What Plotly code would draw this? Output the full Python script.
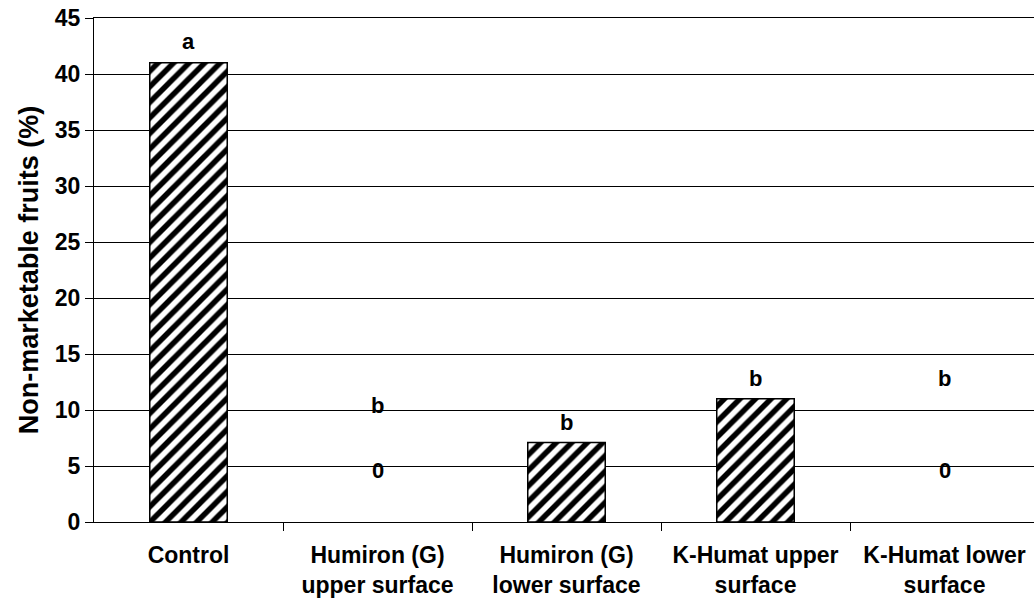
import plotly.graph_objects as go

categories = ["Control", "Humiron (G)<br>upper surface", "Humiron (G)<br>lower surface",
              "K-Humat upper<br>surface", "K-Humat lower<br>surface"]
values = [41, 0, 7.1, 11, 0]
letters = ["a", "b", "b", "b", "b"]
letter_y = [42.9, 10.4, 8.9, 12.8, 12.8]
zero_labels = ["", "0", "", "", "0"]
zero_y = [4.6, 4.6, 4.6, 4.6, 4.6]
y_ticks = [0, 5, 10, 15, 20, 25, 30, 35, 40, 45]

FONT = "Liberation Sans, Arial"

fig = go.Figure()
fig.add_trace(go.Bar(
    x=list(range(len(categories))),
    y=[v if v != 0 else None for v in values],
    width=0.41,
    marker=dict(color="white", line=dict(color="black", width=1.5),
                pattern=dict(shape="/", fgcolor="black", bgcolor="white", fgopacity=1,
                             size=11, solidity=0.5, fillmode="overlay")),
    showlegend=False,
))

ann = []
for i, (l, ly) in enumerate(zip(letters, letter_y)):
    ann.append(dict(x=i, y=ly, text=f"<b>{l}</b>", showarrow=False,
                    font=dict(size=22, color="black", family=FONT)))
for i, (z, zy) in enumerate(zip(zero_labels, zero_y)):
    if z:
        ann.append(dict(x=i, y=zy, text=f"<b>{z}</b>", showarrow=False,
                        font=dict(size=22, color="black", family=FONT)))

fig.update_layout(
    width=1034, height=602,
    margin=dict(l=94, r=0, t=18, b=80),
    plot_bgcolor="white", paper_bgcolor="white",
    font=dict(family=FONT, color="black"),
    annotations=ann,
)
fig.update_xaxes(
    range=[-0.5, 4.5 - 5 / 189], tickmode="array",
    tickvals=list(range(len(categories))),
    ticktext=[f"<b>{c}</b>" for c in categories],
    tickfont=dict(size=23, family=FONT, color="black"),
    showline=True, linecolor="black", linewidth=1, mirror=True,
    showgrid=False, zeroline=False, ticks="",
    ticklabelstandoff=12,
    minor=dict(ticks="outside", ticklen=8, tickcolor="black",
               tickmode="array", tickvals=[0.5, 1.5, 2.5, 3.5], showgrid=False),
)
fig.update_yaxes(
    range=[0, 45], tickvals=y_ticks,
    ticktext=[f"<b>{t}</b>" for t in y_ticks],
    tickfont=dict(size=23, family=FONT, color="black"),
    ticks="outside", ticklen=8, tickcolor="black",
    showline=True, linecolor="black", linewidth=1,
    showgrid=True, gridcolor="black", gridwidth=1, zeroline=False,
    title=dict(text="<b>Non-marketable fruits (%)</b>", standoff=8,
               font=dict(size=27, family=FONT, color="black")),
)

fig.write_html("out.html", config={"displayModeBar": False},
               post_script="document.body.style.margin='0px';")
